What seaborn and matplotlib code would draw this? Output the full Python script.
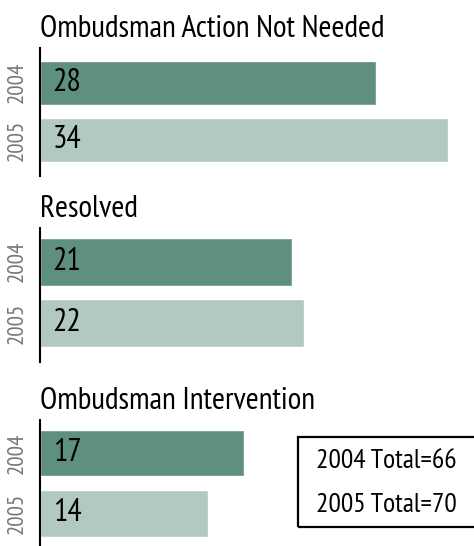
import matplotlib
matplotlib.use("Agg")
import matplotlib.pyplot as plt
from matplotlib.patches import Rectangle
import pandas as pd
import seaborn as sns

categories = ["Ombudsman Action Not Needed", "Resolved", "Ombudsman Intervention"]
years = ["2004", "2005"]
counts_2004 = [28, 21, 17]
counts_2005 = [34, 22, 14]
totals = [66, 70]

colour = {"2004": "#5f8f7f", "2005": "#b2c9c0"}

sns.set_style("white")
plt.rcParams['font.family'] = ['PT Sans Narrow', 'Roboto Condensed', 'DejaVu Sans']
plt.rcParams['text.color'] = 'black'

rows = []
for cat, a, b in zip(categories, counts_2004, counts_2005):
    rows.append({"category": cat, "year": "2004", "count": a})
    rows.append({"category": cat, "year": "2005", "count": b})
df = pd.DataFrame(rows)

W, H = 474, 546
fig = plt.figure(figsize=(W / 100, H / 100), dpi=100)

# (top px, bottom px, ylim)
panels = [(48, 176, (1.63, -0.61)), (228, 362, (1.63, -0.55)), (420, 548, (1.58, -0.55))]
left = 40
xmax = (W - left) / 12.0

for cat, (top, bot, ylim) in zip(categories, panels):
    ax = fig.add_axes([left / W, 1 - bot / H, (W - left) / W, (bot - top) / H])
    sub = df[df["category"] == cat]
    sns.barplot(data=sub, x="count", y="year", hue="year", palette=colour,
                order=years, orient="h", width=0.78, saturation=1,
                legend=False, ax=ax)
    ax.set_xlim(0, xmax)
    ax.set_ylim(*ylim)
    for s in ["top", "right", "bottom"]:
        ax.spines[s].set_visible(False)
    ax.spines["left"].set_color("black")
    ax.spines["left"].set_linewidth(1.5)
    ax.set_xticks([])
    ax.set_xlabel("")
    ax.set_ylabel("")
    ax.tick_params(axis="y", length=0, pad=9, labelsize=16.5, labelcolor="#777777")
    for lab in ax.get_yticklabels():
        lab.set_rotation(90)
        lab.set_va("center")
    for i, v in enumerate(sub["count"]):
        ax.text(1.05, i, str(v), va="center", ha="left", fontsize=23, color="black")
    ax.set_title(cat, loc="left", fontsize=22.5, pad=8, color="black")

fig.add_artist(Rectangle((298 / W, 1 - 527 / H), 200 / W, 90 / H,
                         transform=fig.transFigure, fill=False,
                         edgecolor="black", linewidth=1.6))
fig.text(316 / W, 1 - 461 / H, f"2004 Total={totals[0]}", fontsize=20, va="center")
fig.text(316 / W, 1 - 505 / H, f"2005 Total={totals[1]}", fontsize=20, va="center")

fig.savefig("out.png", dpi=100)
